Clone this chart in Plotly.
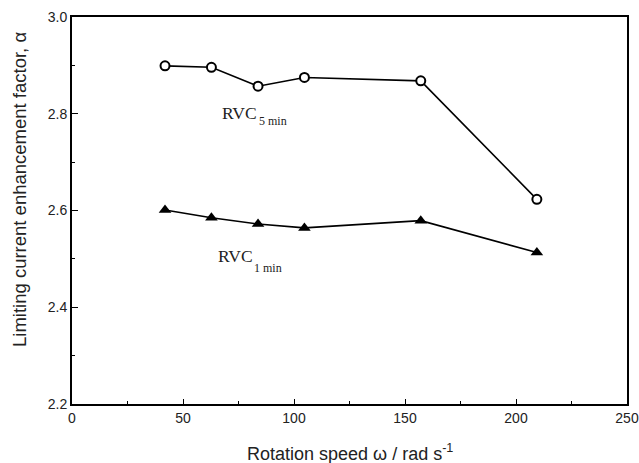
import plotly.graph_objects as go

omega = [41.9, 62.8, 83.8, 104.7, 157.1, 209.4]
rvc5 = [2.899, 2.896, 2.857, 2.875, 2.868, 2.623]
rvc1 = [2.601, 2.585, 2.572, 2.564, 2.579, 2.513]

x_ticks = [0, 50, 100, 150, 200, 250]
y_ticks = [2.2, 2.4, 2.6, 2.8, 3.0]

W, H = 639, 463
L, R, T, B = 72, 12, 17, 59
pw, ph = W - L - R, H - T - B


def px(x):
    return (x - L) / pw


def py(y):
    return 1 - (y - T) / ph


fig = go.Figure()
fig.add_trace(go.Scatter(
    x=omega, y=rvc5, mode="lines+markers",
    line=dict(color="black", width=1.6),
    marker=dict(symbol="circle", size=9, color="white",
                line=dict(color="black", width=2)),
    showlegend=False, cliponaxis=False))
fig.add_trace(go.Scatter(
    x=omega, y=rvc1, mode="lines+markers",
    line=dict(color="black", width=1.6),
    marker=dict(symbol="triangle-up", size=11, color="black",
                line=dict(color="black", width=0)),
    showlegend=False, cliponaxis=False))

axis_common = dict(
    showgrid=False, zeroline=False, showline=True, linecolor="black",
    linewidth=2, mirror=True, ticks="inside", tickcolor="black",
    tickwidth=1.2, automargin=False,
    tickfont=dict(family="Liberation Sans, Arial", size=14, color="#222"),
)
fig.update_xaxes(range=[0, 250], tickvals=x_ticks, ticklen=5,
                 minor=dict(dtick=25, ticklen=3, ticks="inside", tickcolor="black", tickwidth=1.2),
                 **axis_common)
fig.update_yaxes(range=[2.2, 3.0], tickvals=y_ticks, ticklen=6,
                 tickformat=".1f",
                 minor=dict(dtick=0.1, ticklen=3, ticks="inside", tickcolor="black", tickwidth=1.2),
                 **axis_common)

serif = "Liberation Serif, Times New Roman"
anns = [
    dict(x=220, y=113, text="RVC", size=17.5),
    dict(x=257, y=121, text="5 min", size=12),
    dict(x=216, y=256, text="RVC", size=17.5),
    dict(x=252, y=268, text="1 min", size=12),
]
for a in anns:
    fig.add_annotation(x=px(a["x"]), y=py(a["y"]), xref="paper", yref="paper",
                       text=a["text"], showarrow=False,
                       font=dict(family=serif, size=a["size"], color="#222"),
                       xanchor="left", yanchor="middle")

fig.add_annotation(x=px(349.5), y=py(452), xref="paper", yref="paper",
                   text="Rotation speed ω / rad s<sup>-1</sup>", showarrow=False,
                   font=dict(family="Liberation Sans, Arial", size=18, color="#222"),
                   xanchor="center", yanchor="middle")
fig.add_annotation(x=px(19), y=py(190), xref="paper", yref="paper",
                   text="Limiting current enhancement factor, α", showarrow=False,
                   textangle=-90,
                   font=dict(family="Liberation Sans, Arial", size=18.5, color="#222"),
                   xanchor="center", yanchor="middle")

fig.update_layout(width=W, height=H, margin=dict(l=L, r=R, t=T, b=B),
                  plot_bgcolor="white", paper_bgcolor="white")
fig.write_html("out.html")
